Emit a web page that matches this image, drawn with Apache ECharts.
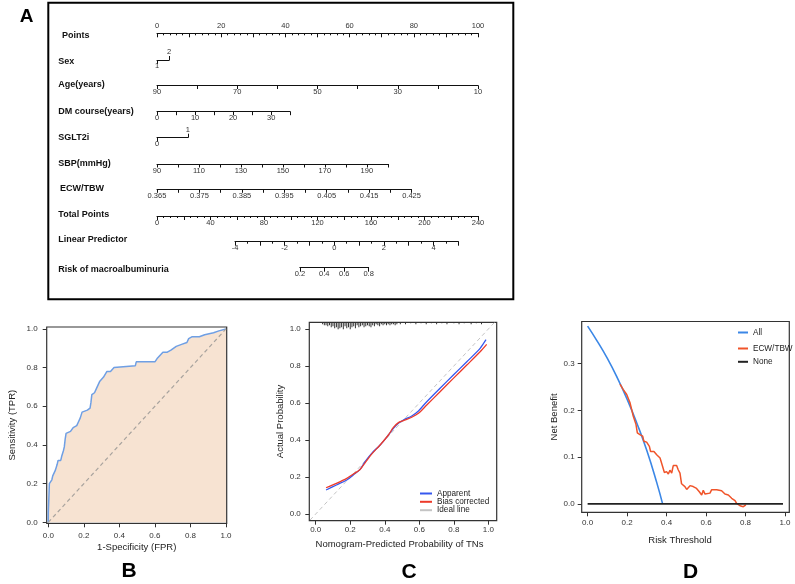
<!DOCTYPE html>
<html>
<head>
<meta charset="utf-8">
<script src="https://cdn.jsdelivr.net/npm/echarts@6/dist/echarts.min.js"></script>
<style>
  html, body { margin: 0; padding: 0; background: #fff; }
  #main { width: 795px; height: 584px; }
</style>
</head>
<body>
<div id="main"></div>
<script>
// ---------- A: nomogram ----------
var rowNames = ['Points', 'Sex', 'Age(years)', 'DM course(years)', 'SGLT2i', 'SBP(mmHg)',
                'ECW/TBW', 'Total Points', 'Linear Predictor', 'Risk of macroalbuminuria'];
// value at left / right end of each scale and the points it is worth
var sexVals = [1, 2],           sexPoints = [0, 3.8];
var ageVals = [90, 10],         agePoints = [0, 100];
var dmVals = [0, 35],           dmPoints = [0, 41.5];
var sgltVals = [0, 1],          sgltPoints = [0, 9.6];
var sbpVals = [90, 200],        sbpPoints = [0, 71.9];
var ecwVals = [0.365, 0.425],   ecwPoints = [0, 79.3];
var totalVals = [0, 240];
var lpVals = [-4, 5],           lpTotals = [58.3, 225.3];
var riskTicks = [0.2, 0.4, 0.6, 0.8];

var pointsLabels = [0, 20, 40, 60, 80, 100];
var pointsMajor = [0, 10, 20, 30, 40, 50, 60, 70, 80, 90, 100];
var ageTicks = [90, 80, 70, 60, 50, 40, 30, 20, 10];
var ageLabels = [90, 70, 50, 30, 10];
var dmTicks = [0, 5, 10, 15, 20, 25, 30, 35];
var dmLabels = [0, 10, 20, 30];
var sbpTicks = [90, 100, 110, 120, 130, 140, 150, 160, 170, 180, 190, 200];
var sbpLabels = [90, 110, 130, 150, 170, 190];
var ecwTicks = [0.365, 0.37, 0.375, 0.38, 0.385, 0.39, 0.395, 0.4, 0.405, 0.41, 0.415, 0.42, 0.425];
var ecwLabels = [0.365, 0.375, 0.385, 0.395, 0.405, 0.415, 0.425];
var totalLabels = [0, 40, 80, 120, 160, 200, 240];
var lpLabels = [-4, -2, 0, 2, 4];
var lpMajor = [-4, -3, -2, -1, 0, 1, 2, 3, 4, 5];

// ---------- B: ROC ----------
var rocFpr = [0, 0, 0.003, 0.006, 0.012, 0.02, 0.025, 0.035, 0.04, 0.05, 0.055, 0.07, 0.075, 0.085, 0.09,
  0.095, 0.1, 0.11, 0.125, 0.14, 0.16, 0.17, 0.18, 0.19, 0.2, 0.22, 0.235, 0.24, 0.245, 0.26, 0.27, 0.28,
  0.29, 0.3, 0.31, 0.32, 0.33, 0.35, 0.37, 0.38, 0.49, 0.495, 0.6, 0.615, 0.625, 0.645, 0.67, 0.69, 0.7,
  0.72, 0.75, 0.78, 0.79, 0.81, 0.85, 0.88, 0.93, 0.96, 1];
var rocTpr = [0, 0.05, 0.12, 0.2, 0.21, 0.22, 0.24, 0.25, 0.27, 0.3, 0.32, 0.32, 0.34, 0.37, 0.39,
  0.43, 0.46, 0.47, 0.47, 0.49, 0.5, 0.52, 0.54, 0.57, 0.58, 0.58, 0.59, 0.62, 0.66, 0.67, 0.69, 0.7,
  0.73, 0.74, 0.75, 0.76, 0.78, 0.78, 0.8, 0.81, 0.81, 0.83, 0.83, 0.85, 0.86, 0.88, 0.88, 0.89, 0.9,
  0.91, 0.92, 0.93, 0.95, 0.96, 0.96, 0.97, 0.98, 0.99, 1];
var rocText = ['Model', 'AUC: 0.761', 'CI: 0.711-0.812'];

// ---------- C: calibration ----------
var calX = [0.06, 0.12, 0.18, 0.218, 0.257, 0.286, 0.324, 0.373, 0.421, 0.45, 0.479, 0.508, 0.556,
  0.595, 0.643, 0.72, 0.797, 0.875, 0.952, 0.986];
var apparentY = [0.13, 0.157, 0.184, 0.211, 0.241, 0.283, 0.328, 0.373, 0.427, 0.463, 0.49, 0.508, 0.53,
  0.557, 0.607, 0.68, 0.751, 0.823, 0.895, 0.942];
var biasX = [0.06, 0.12, 0.18, 0.218, 0.257, 0.286, 0.324, 0.373, 0.421, 0.45, 0.479, 0.508, 0.556,
  0.595, 0.643, 0.72, 0.797, 0.875, 0.952, 0.99];
var biasY = [0.142, 0.166, 0.193, 0.216, 0.241, 0.277, 0.324, 0.373, 0.427, 0.468, 0.494, 0.505, 0.523,
  0.544, 0.589, 0.661, 0.733, 0.805, 0.877, 0.917];
var idealEnds = [-0.06, 1.06];
var rugX = [0.04, 0.05, 0.06, 0.07, 0.08, 0.09, 0.1, 0.11, 0.12, 0.13, 0.14, 0.15, 0.16, 0.17, 0.18, 0.19,
  0.2, 0.21, 0.22, 0.23, 0.24, 0.25, 0.26, 0.27, 0.28, 0.29, 0.3, 0.31, 0.32, 0.33, 0.34, 0.35, 0.36, 0.37,
  0.38, 0.39, 0.4, 0.41, 0.42, 0.43, 0.44, 0.45, 0.46, 0.47, 0.49, 0.52, 0.55, 0.58, 0.61, 0.64, 0.67,
  0.7, 0.73, 0.76, 0.8, 0.83, 0.86, 0.9, 0.93, 0.96];
var rugH = [2, 3, 3, 4, 3, 5, 4, 6, 5, 7, 6, 5, 7, 4, 6, 5, 7, 5, 4, 6, 3, 5, 4, 3, 5, 4, 3, 4, 5, 3, 4, 2,
  3, 4, 2, 3, 2, 3, 2, 3, 2, 2, 3, 2, 2, 2, 1, 2, 1, 2, 1, 2, 1, 2, 1, 2, 1, 2, 1, 2];

// ---------- D: decision curve ----------
var allT = [0, 0.05, 0.1, 0.15, 0.2, 0.25, 0.3, 0.35, 0.38];
var allNB = [0.38, 0.347, 0.311, 0.27, 0.224, 0.172, 0.114, 0.046, 0];
var ecwT = [0.164, 0.18, 0.198, 0.215, 0.223, 0.231, 0.245, 0.252, 0.265, 0.279, 0.285, 0.299, 0.313,
  0.319, 0.336, 0.35, 0.367, 0.38, 0.389, 0.4, 0.409, 0.417, 0.426, 0.434, 0.451, 0.459, 0.468, 0.476,
  0.493, 0.502, 0.519, 0.535, 0.552, 0.566, 0.578, 0.586, 0.595, 0.603, 0.62, 0.628, 0.654, 0.679,
  0.696, 0.713, 0.73, 0.747, 0.755, 0.772, 0.789, 0.802];
var ecwNB = [0.256, 0.245, 0.234, 0.216, 0.202, 0.188, 0.17, 0.152, 0.148, 0.145, 0.134, 0.132, 0.123,
  0.112, 0.112, 0.105, 0.098, 0.08, 0.067, 0.069, 0.064, 0.072, 0.066, 0.082, 0.082, 0.073, 0.066, 0.043,
  0.037, 0.031, 0.039, 0.037, 0.033, 0.026, 0.019, 0.029, 0.021, 0.023, 0.023, 0.03, 0.03, 0.028,
  0.021, 0.019, 0.012, 0.007, 0.001, -0.004, -0.006, -0.002];
var noneT = [0, 0.99];
var noneNB = [0, 0];

// ---------- layout ----------
var FONT = '"Liberation Sans", Arial, sans-serif';
var X0 = 157, PX_PER_POINT = 3.21;
var rowY = [33.3, 60, 85.5, 111.7, 137.7, 164, 189.3, 216, 241.7, 267.7];
var labelX = [62, 58.3, 58.3, 58.3, 58.3, 58.3, 60, 58.3, 58.3, 58.3];
var labelY = [36, 61.5, 84.5, 111.5, 137.3, 163.5, 188.5, 215, 240, 269.5];

function steps(a, b, s) {
  var out = [];
  for (var i = 0; a + i * s <= b + 1e-9; i++) out.push(Math.round((a + i * s) * 1000) / 1000);
  return out;
}
function zip(a, b) { return a.map(function (v, i) { return [v, b[i]]; }); }
function logit(p) { return Math.log(p / (1 - p)); }
function ptPx(p) { return X0 + p * PX_PER_POINT; }
function totalPx(t) { return ptPx(t * 100 / totalVals[1]); }
function lpPx(lp) {
  var t = lpTotals[0] + (lp - lpVals[0]) * (lpTotals[1] - lpTotals[0]) / (lpVals[1] - lpVals[0]);
  return totalPx(t);
}

var grids = [], xAxes = [], yAxes = [];

function nomoRow(row, pxL, pxR, vL, vR, parts) {
  var gi = grids.length;
  grids.push({ left: pxL, top: rowY[row] - 1, width: pxR - pxL, height: 1, show: false });
  yAxes.push({ gridIndex: gi, show: false, min: 0, max: 1 });
  parts.forEach(function (p, k) {
    xAxes.push({
      gridIndex: gi, type: 'value', position: 'bottom',
      min: Math.min(vL, vR), max: Math.max(vL, vR), inverse: vL > vR,
      axisLine: { show: k === 0, onZero: false, lineStyle: { color: '#111', width: 1 } },
      axisTick: { show: true, customValues: p.ticks, inside: !!p.up, length: p.len || 3.5,
                  lineStyle: { color: '#111', width: 1 } },
      axisLabel: { show: !!p.labels, customValues: p.labels || [], inside: !!p.labelUp,
                   margin: p.margin || 2.5, fontSize: 7.5, color: '#333', fontFamily: FONT,
                   formatter: p.fmt || function (v) { return String(v); } },
      splitLine: { show: false }
    });
  });
}

nomoRow(0, ptPx(0), ptPx(100), 0, 100, [
  { ticks: steps(0, 100, 2), len: 2 },
  { ticks: pointsMajor, len: 4, labels: pointsLabels, labelUp: true, margin: 3 }
]);
nomoRow(1, ptPx(sexPoints[0]), ptPx(sexPoints[1]), sexVals[0], sexVals[1], [
  { ticks: [sexVals[0]], len: 4, labels: [sexVals[0]], margin: 2 },
  { ticks: [sexVals[1]], len: 4, up: true, labels: [sexVals[1]], labelUp: true, margin: 4 }
]);
nomoRow(2, ptPx(agePoints[0]), ptPx(agePoints[1]), ageVals[0], ageVals[1], [
  { ticks: ageTicks, labels: ageLabels }
]);
nomoRow(3, ptPx(dmPoints[0]), ptPx(dmPoints[1]), dmVals[0], dmVals[1], [
  { ticks: dmTicks, labels: dmLabels }
]);
nomoRow(4, ptPx(sgltPoints[0]), ptPx(sgltPoints[1]), sgltVals[0], sgltVals[1], [
  { ticks: [sgltVals[0]], len: 4, labels: [sgltVals[0]], margin: 2 },
  { ticks: [sgltVals[1]], len: 4, up: true, labels: [sgltVals[1]], labelUp: true, margin: 4 }
]);
nomoRow(5, ptPx(sbpPoints[0]), ptPx(sbpPoints[1]), sbpVals[0], sbpVals[1], [
  { ticks: sbpTicks, labels: sbpLabels }
]);
nomoRow(6, ptPx(ecwPoints[0]), ptPx(ecwPoints[1]), ecwVals[0], ecwVals[1], [
  { ticks: ecwTicks, labels: ecwLabels, fmt: function (v) { return v.toFixed(3); } }
]);
nomoRow(7, totalPx(totalVals[0]), totalPx(totalVals[1]), totalVals[0], totalVals[1], [
  { ticks: steps(0, 240, 5), len: 2 },
  { ticks: steps(0, 240, 20), len: 4, labels: totalLabels }
]);
nomoRow(8, lpPx(lpVals[0]), lpPx(lpVals[1]), lpVals[0], lpVals[1], [
  { ticks: steps(-4, 5, 0.5), len: 2 },
  { ticks: lpMajor, len: 4, labels: lpLabels }
]);
var rL = logit(riskTicks[0]), rR = logit(riskTicks[riskTicks.length - 1]);
nomoRow(9, lpPx(rL), lpPx(rR), rL, rR, [
  { ticks: riskTicks.map(logit), len: 4, labels: riskTicks.map(logit),
    fmt: function (v) { return (1 / (1 + Math.exp(-v))).toFixed(1); } }
]);

// ---------- panels B, C, D ----------
var tickStyle = { color: '#333', width: 1 };
var unitTicks = [0, 0.2, 0.4, 0.6, 0.8, 1];
function f1(v) { return v.toFixed(1); }

function panel(g, xr, yr, xt, yt, xName, yName, o) {
  var gi = grids.length;
  grids.push({ left: g[0], top: g[1], width: g[2], height: g[3], show: true,
               borderColor: '#333', borderWidth: 1.2, backgroundColor: 'transparent' });
  xAxes.push({
    gridIndex: gi, type: 'value', min: xr[0], max: xr[1], position: 'bottom',
    axisLine: { show: false, onZero: false },
    axisTick: { show: true, customValues: xt, length: 4, lineStyle: tickStyle },
    axisLabel: { customValues: xt, formatter: f1, margin: o.xm, fontSize: 8, color: '#333', fontFamily: FONT },
    splitLine: { show: false },
    name: xName, nameLocation: 'middle', nameGap: o.xg,
    nameTextStyle: { fontSize: 9.5, color: '#222', fontFamily: FONT, padding: [0, o.xpad || 0, 0, 0] }
  });
  yAxes.push({
    gridIndex: gi, type: 'value', min: yr[0], max: yr[1], position: 'left',
    axisLine: { show: false, onZero: false },
    axisTick: { show: true, customValues: yt, length: 4, lineStyle: tickStyle },
    axisLabel: { customValues: yt, formatter: f1, margin: o.ym, fontSize: 8, color: '#333', fontFamily: FONT },
    splitLine: { show: false },
    name: yName, nameLocation: 'middle', nameGap: o.yg,
    nameTextStyle: { fontSize: 9.5, color: '#222', fontFamily: FONT }
  });
  return { x: xAxes.length - 1, y: yAxes.length - 1, g: gi };
}

var pB = panel([46.7, 327, 180, 196.3], [-0.009, 1.004], [-0.005, 1.01], unitTicks, unitTicks,
  '1-Specificity (FPR)', 'Sensitivity (TPR)', { xm: 8, xg: 19, ym: 9, yg: 29 });
var pC = panel([309.3, 322.3, 187.4, 198.4], [-0.037, 1.048], [-0.036, 1.036], unitTicks, unitTicks,
  'Nomogram-Predicted Probability of TNs', 'Actual Probability', { xm: 5, xg: 19, ym: 8.5, yg: 23.5, xpad: 7 });
var pD = panel([581.7, 321.5, 207.6, 190.8], [-0.03, 1.022], [-0.018, 0.39], unitTicks, [0, 0.1, 0.2, 0.3],
  'Risk Threshold', 'Net Benefit', { xm: 6, xg: 23, ym: 7, yg: 21.5, xpad: 11 });

// rug axis for the spike histogram hanging from the top of C
yAxes.push({ gridIndex: pC.g, type: 'value', show: false, inverse: true, min: 0, max: 198.4 });
var rugAxis = yAxes.length - 1;

var series = [
  { name: 'ROC', type: 'line', xAxisIndex: pB.x, yAxisIndex: pB.y, data: zip(rocFpr, rocTpr),
    symbol: 'none', lineStyle: { color: '#6f9fe4', width: 1.5 },
    areaStyle: { color: '#f7e3d2', opacity: 1 }, z: 2 },
  { name: 'Chance', type: 'line', xAxisIndex: pB.x, yAxisIndex: pB.y, data: [[0, 0], [1, 1]],
    symbol: 'none', lineStyle: { color: '#a8a39e', width: 1.2, type: [4, 3] }, z: 3 },

  { name: 'Ideal line', type: 'line', xAxisIndex: pC.x, yAxisIndex: pC.y,
    data: [[idealEnds[0], idealEnds[0]], [idealEnds[1], idealEnds[1]]], clip: true,
    symbol: 'none', itemStyle: { color: '#c4c4c4' }, lineStyle: { color: '#c4c4c4', width: 1, type: [4, 3] } },
  { name: 'Apparent', type: 'line', xAxisIndex: pC.x, yAxisIndex: pC.y, data: zip(calX, apparentY),
    smooth: 0.3, symbol: 'none', itemStyle: { color: '#3658ee' }, lineStyle: { color: '#3658ee', width: 1.3 } },
  { name: 'Bias corrected', type: 'line', xAxisIndex: pC.x, yAxisIndex: pC.y, data: zip(biasX, biasY),
    smooth: 0.3, symbol: 'none', itemStyle: { color: '#ec3a2a' }, lineStyle: { color: '#ec3a2a', width: 1.3 } },
  { name: 'rug', type: 'bar', xAxisIndex: pC.x, yAxisIndex: rugAxis, data: zip(rugX, rugH),
    barWidth: 1, itemStyle: { color: '#333' } },

  { name: 'All', type: 'line', xAxisIndex: pD.x, yAxisIndex: pD.y, data: zip(allT, allNB),
    smooth: true, symbol: 'none', itemStyle: { color: '#3b87e6' }, lineStyle: { color: '#3b87e6', width: 1.6 } },
  { name: 'ECW/TBW', type: 'line', xAxisIndex: pD.x, yAxisIndex: pD.y, data: zip(ecwT, ecwNB),
    symbol: 'none', itemStyle: { color: '#f0542a' }, lineStyle: { color: '#f0542a', width: 1.5 } },
  { name: 'None', type: 'line', xAxisIndex: pD.x, yAxisIndex: pD.y, data: zip(noneT, noneNB),
    symbol: 'none', itemStyle: { color: '#222' }, lineStyle: { color: '#222', width: 1.6 } }
];

function legendItem(name, left, cy, w) {
  return { data: [name], left: left, top: cy - 5.5, padding: 0, icon: 'rect', itemWidth: w, itemHeight: 2,
           selectedMode: false, textStyle: { fontSize: 8.2, color: '#222', fontFamily: FONT } };
}

var graphics = [
  { type: 'rect', shape: { x: 48.3, y: 2.7, width: 465, height: 296.6 },
    style: { fill: 'none', stroke: '#000', lineWidth: 2 } }
];
rowNames.forEach(function (n, i) {
  graphics.push({ type: 'text', x: labelX[i], y: labelY[i],
    style: { text: n, fill: '#111', font: 'bold 9px ' + FONT, verticalAlign: 'middle', textVerticalAlign: 'middle' } });
});
[['A', 26.7, 16.7, 19], ['B', 129, 571, 21], ['C', 409, 572, 21], ['D', 690.5, 572, 21]].forEach(function (l) {
  graphics.push({ type: 'text', x: l[1], y: l[2],
    style: { text: l[0], fill: '#000', font: 'bold ' + l[3] + 'px ' + FONT,
             align: 'center', textAlign: 'center', verticalAlign: 'middle', textVerticalAlign: 'middle' } });
});
[485.7, 500.7, 513.3].forEach(function (y, i) {
  graphics.push({ type: 'text', x: 217.3, y: y,
    style: { text: rocText[i], fill: '#333', font: '8px ' + FONT,
             align: 'right', textAlign: 'right', verticalAlign: 'middle', textVerticalAlign: 'middle' } });
});

var chart = echarts.init(document.getElementById('main'));
chart.setOption({
  animation: false,
  backgroundColor: '#fff',
  textStyle: { fontFamily: FONT },
  grid: grids,
  xAxis: xAxes,
  yAxis: yAxes,
  legend: [
    legendItem('Apparent', 420, 495, 12),
    legendItem('Bias corrected', 420, 503.3, 12),
    legendItem('Ideal line', 420, 511.7, 12),
    legendItem('All', 738, 334, 10),
    legendItem('ECW/TBW', 738, 350, 10),
    legendItem('None', 738, 363.3, 10)
  ],
  series: series,
  graphic: graphics
});
</script>
</body>
</html>
